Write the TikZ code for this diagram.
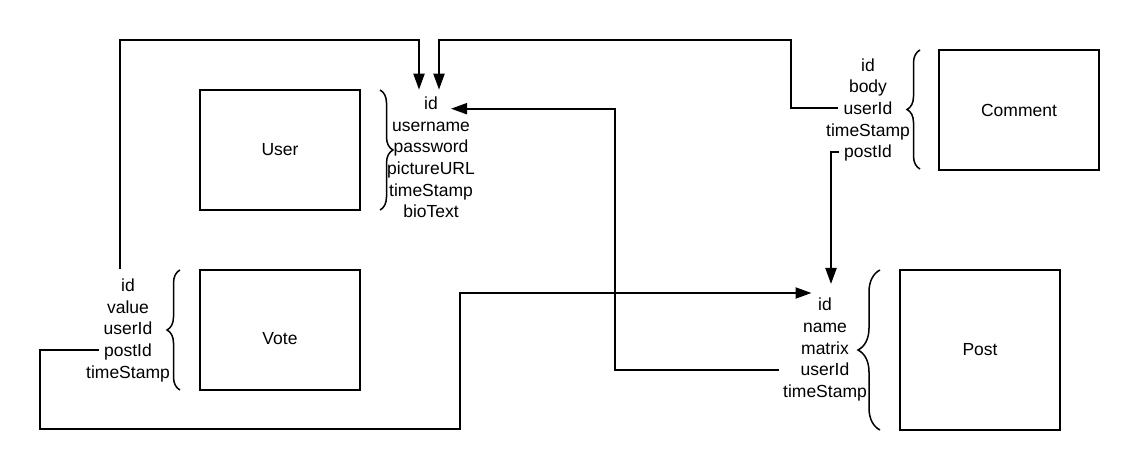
\documentclass[tikz,border=0pt]{standalone}
\usepackage{fontspec}
\setmainfont{Liberation Sans}
\usetikzlibrary{arrows.meta,decorations.pathreplacing}
\begin{document}
\begin{tikzpicture}[x=1pt,y=-1pt,
  every node/.style={font=\fontsize{17.5pt}{21pt}\selectfont},
  entity/.style={draw, line width=2pt, minimum width=160pt, minimum height=120pt, inner sep=0pt},
  attr/.style={anchor=base, inner xsep=5pt, inner ysep=0pt, text height=12.6pt, text depth=0pt},
  link/.style={line width=2pt},
  arr/.style={link, -{Triangle[length=16pt,width=11pt]}},
  bracesmall/.style={decorate, decoration={brace, amplitude=13pt}, line width=1.5pt},
  bracelarge/.style={decorate, decoration={brace, amplitude=22pt}, line width=1.5pt}]
\useasboundingbox (0,0) rectangle (1140,470);

% entities
\node[entity] (user) at (280,150) {User};
\node[entity, text height=28.6pt] (vote) at (280,330) {Vote};
\node[entity] (comment) at (1019,110) {Comment};
\node[entity, minimum height=160pt] (post) at (980,350) {Post};

% User attributes
\node[attr] (uid)   at (431,109.5) {id};
\node[attr] (uname) at (431,131.2) {username};
\node[attr] (upass) at (431,152.9) {password};
\node[attr] (upic)  at (431,174.6) {pictureURL};
\node[attr] (utime) at (431,196.3) {timeStamp};
\node[attr] (ubio)  at (431,218.0) {bioText};

% Comment attributes
\node[attr] (cid)   at (868,71.3)  {id};
\node[attr] (cbody) at (868,93.0)  {body};
\node[attr] (cuser) at (868,114.6) {userId};
\node[attr] (ctime) at (868,136.3) {timeStamp};
\node[attr] (cpost) at (868,158.0) {postId};

% Vote attributes
\node[attr] (vid)    at (128,291.5) {id};
\node[attr] (vvalue) at (128,313.2) {value};
\node[attr] (vuser)  at (128,334.9) {userId};
\node[attr] (vpost)  at (128,356.6) {postId};
\node[attr] (vtime)  at (128,378.3) {timeStamp};

% Post attributes
\node[attr] (pid)    at (825,310.8) {id};
\node[attr] (pname)  at (825,332.5) {name};
\node[attr] (pmat)   at (825,354.2) {matrix};
\node[attr] (puser)  at (825,375.9) {userId};
\node[attr] (ptime)  at (825,397.6) {timeStamp};

% braces
\draw[bracesmall] (380,90) -- (380,210);
\draw[bracesmall] (920,169) -- (920,50);
\draw[bracesmall] (180,390) -- (180,270);
\draw[bracelarge] (880,430) -- (880,270);

% connectors
\draw[arr] ([xshift=-8pt,yshift=10pt]vid.north) |- (300,40) -| ([xshift=-12pt,yshift=7pt]uid.north);
\draw[arr] (cuser.west) -| (791,40) -| ([xshift=8pt,yshift=7pt]uid.north);
\draw[arr] (cpost.west) -| ([xshift=6pt,yshift=14pt]pid.north);
\draw[arr] (vpost.west) -| (40,429) -| (460,380) |- ([xshift=-1.5pt,yshift=5pt]pid.north west);
\draw[arr] ([xshift=-16pt]puser.west) -| (615,200) |- ([xshift=8pt,yshift=1pt]uid.south east);
\end{tikzpicture}
\end{document}
